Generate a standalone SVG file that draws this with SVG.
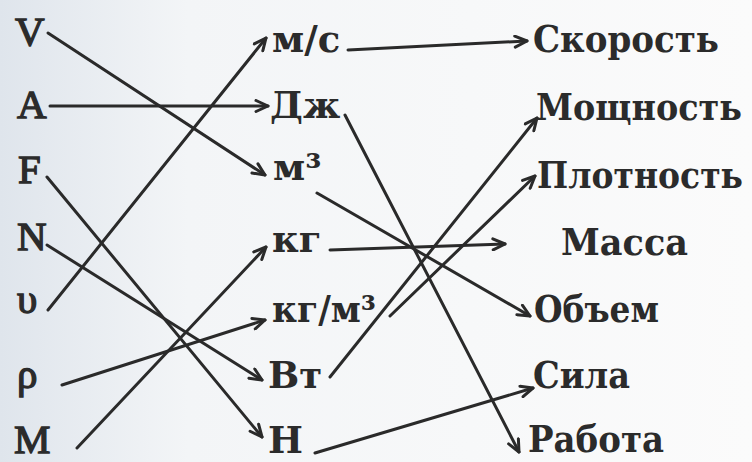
<svg xmlns="http://www.w3.org/2000/svg" width="752" height="462" viewBox="0 0 752 462">
<defs>
<linearGradient id="bg" x1="0" y1="0" x2="1" y2="0">
<stop offset="0" stop-color="#dfe5ec"/>
<stop offset="0.25" stop-color="#f3f5f7"/>
<stop offset="1" stop-color="#fbfbfb"/>
</linearGradient>
<marker id="ah" viewBox="0 0 16 14" refX="14" refY="7" markerWidth="16" markerHeight="14" markerUnits="userSpaceOnUse" orient="auto">
<path d="M2,1.5 L14,7 L2,12.5" fill="none" stroke="#2a2a2a" stroke-width="3" stroke-linecap="round" stroke-linejoin="round"/>
</marker>
<style>
text{fill:#2b2b2b}
.l{font-family:'Liberation Serif',serif;stroke:#2b2b2b;stroke-width:1.3;font-size:41px}
.r{font-family:'DejaVu Serif',serif;font-weight:bold;font-size:37px}
.c line{stroke:#2a2a2a;stroke-width:3;stroke-linecap:round;marker-end:url(#ah)}
</style>
</defs>
<rect width="752" height="462" fill="url(#bg)"/>
<g id="left">
<g id="nV"><text class="l" x="15" y="45">V</text></g>
<g id="nA"><text class="l" x="17" y="118">A</text></g>
<g id="nF"><text class="l" x="18" y="183">F</text></g>
<g id="nN"><text class="l" x="17" y="250">N</text></g>
<g id="nU"><text class="l" x="17" y="313">υ</text></g>
<g id="nR"><text class="l" x="17" y="388">ρ</text></g>
<g id="nM"><text class="l" x="14" y="453">M</text></g>
</g>
<g id="mid">
<g id="ums"><text class="r" x="272" y="52">м/с</text></g>
<g id="uJ"><text class="r" x="270" y="118">Дж</text></g>
<g id="um3"><text class="r" x="273" y="180">м³</text></g>
<g id="ukg"><text class="r" x="272" y="252">кг</text></g>
<g id="ukgm3"><text class="r" x="272" y="322" textLength="104" lengthAdjust="spacingAndGlyphs">кг/м³</text></g>
<g id="uW"><text class="r" x="268" y="388">Вт</text></g>
<g id="uN"><text class="r" x="268" y="453">Н</text></g>
</g>
<g id="right">
<g id="qV"><text class="r" x="533" y="52" textLength="186" lengthAdjust="spacingAndGlyphs">Скорость</text></g>
<g id="qP"><text class="r" x="536" y="120" textLength="206" lengthAdjust="spacingAndGlyphs">Мощность</text></g>
<g id="qD"><text class="r" x="537" y="188" textLength="206" lengthAdjust="spacingAndGlyphs">Плотность</text></g>
<g id="qM"><text class="r" x="561" y="255" textLength="127" lengthAdjust="spacingAndGlyphs">Масса</text></g>
<g id="qO"><text class="r" x="534" y="322" textLength="125" lengthAdjust="spacingAndGlyphs">Объем</text></g>
<g id="qF"><text class="r" x="533" y="388" textLength="97" lengthAdjust="spacingAndGlyphs">Сила</text></g>
<g id="qA"><text class="r" x="528" y="452" textLength="136" lengthAdjust="spacingAndGlyphs">Работа</text></g>
</g>
<g id="connectors" class="c">
<line x1="48" y1="33" x2="265" y2="175"/>
<line x1="50" y1="106" x2="268" y2="106"/>
<line x1="47" y1="177" x2="262" y2="437"/>
<line x1="47" y1="245" x2="262" y2="380"/>
<line x1="48" y1="310" x2="266" y2="38"/>
<line x1="62" y1="385" x2="265" y2="320"/>
<line x1="77" y1="448" x2="266" y2="247"/>
<line x1="348" y1="50" x2="527" y2="41"/>
<line x1="345" y1="115" x2="519" y2="452"/>
<line x1="317" y1="193" x2="530" y2="316"/>
<line x1="330" y1="250" x2="505" y2="244"/>
<line x1="390" y1="316" x2="535" y2="176"/>
<line x1="330" y1="377" x2="537" y2="118"/>
<line x1="315" y1="453" x2="533" y2="388"/>
</g>
</svg>
